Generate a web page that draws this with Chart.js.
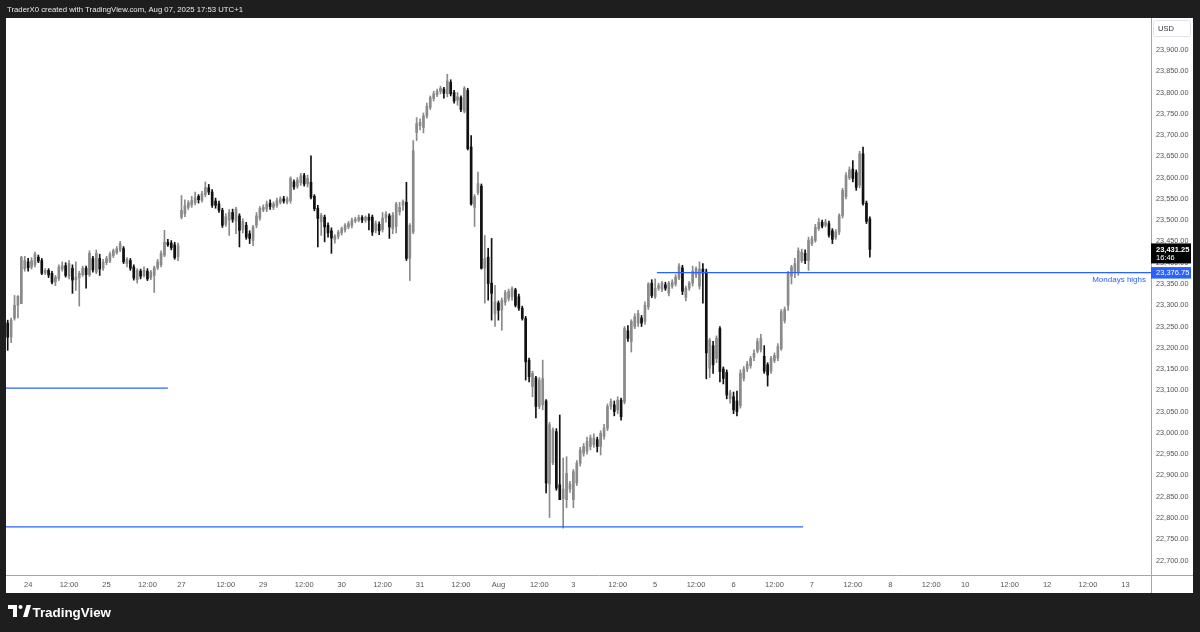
<!DOCTYPE html>
<html><head><meta charset="utf-8">
<script src="https://cdn.jsdelivr.net/npm/chart.js@4/dist/chart.umd.min.js"></script>
<style>html,body{margin:0;padding:0;background:#1e1e1e;overflow:hidden}canvas{display:block}</style>
</head><body>
<canvas id="c" width="1200" height="632"></canvas>
<script>
// ---- hourly candles, NQ futures, Jul 23 17:00 .. Aug 7 17:00 (UTC+1) ----
const opens = [
 23258,23225,23270,23300,23304,23386,23402,23390,23395,23413,23405,23376,23382,23375,23355,23363,23385,23393,23368,23387,
 23360,23365,23372,23387,23372,23410,23378,23410,23387,23400,23404,23417,23424,23430,23433,23398,23405,23390,23360,23380,
 23370,23380,23365,23370,23388,23395,23418,23448,23446,23442,23414,
 23507,23515,23530,23536,23541,23556,23547,23560,23576,23566,23545,23538,23523,23490,23500,23518,23498,23510,23478,
 23488,23468,23452,23488,23505,23524,23526,23540,23530,23535,23542,23550,23543,23546,23590,23580,23588,23605,23585,23589,
 23556,23528,23496,23507,23488,23475,23455,23462,23470,23478,23484,23488,23498,23500,23506,23500,23507,23507,23476,23490,
 23478,23505,23510,23480,23485,23520,23535,23542,23410,23472,
 23706,23722,23718,23745,23765,23786,23795,23803,23808,23797,23824,23800,23782,23788,23756,23805,23672,23530,23565,23580,23387,23413,23352,
 23280,23305,23289,23307,23316,23320,23336,23320,23293,23269,23171,23109,23129,23062,23066,23075,22880,22930,23003,22878,22845,22843,22868,
 22843,22882,22929,22952,22957,22968,22972,22984,22968,22992,23011,23062,23066,23054,23077,23073,23240,23215,23250,23258,23270,23262,23296,
 23352,23320,23340,23338,23348,23328,23345,23350,23364,23388,23318,23340,23352,23372,23345,23385,23378,23152,23205,23175,23245,23150,23142,
 23080,23085,23075,23064,23128,23150,23158,23178,23192,23196,23180,23160,23145,23170,23176,23198,23264,23300,23368,23378,23378,23405,23422,
 23405,23445,23452,23480,23495,23488,23492,23475,23460,23472,23511,23555,23600,23620,23612,23582,23656,23540,23503
];
const highs = [
 23265,23270,23323,23323,23415,23415,23410,23412,23425,23418,23410,23386,23386,23380,23370,23395,23402,23400,23405,23395,
 23402,23380,23392,23392,23428,23415,23430,23420,23408,23415,23425,23432,23438,23450,23438,23412,23410,23395,23386,23385,
 23390,23386,23382,23392,23408,23428,23476,23455,23452,23448,23446,
 23558,23548,23546,23556,23566,23560,23568,23590,23584,23572,23552,23545,23528,23515,23525,23526,23530,23515,23503,
 23495,23475,23488,23518,23532,23536,23545,23548,23543,23552,23555,23556,23555,23602,23595,23600,23610,23610,23606,23651,
 23560,23535,23516,23512,23494,23482,23466,23476,23484,23492,23497,23505,23507,23512,23511,23510,23515,23512,23498,23496,
 23518,23520,23515,23518,23542,23542,23548,23589,23492,23687,
 23741,23738,23752,23775,23792,23803,23808,23815,23812,23843,23830,23805,23800,23792,23814,23810,23699,23560,23613,23585,23464,23434,23457,
 23347,23310,23317,23335,23338,23343,23340,23326,23298,23274,23176,23145,23133,23130,23171,23078,23025,23012,23010,23042,22941,22944,22886,
 22914,22935,22966,22975,22990,22995,22998,22990,23005,23020,23068,23080,23075,23085,23082,23250,23252,23266,23280,23288,23276,23308,23353,
 23360,23362,23352,23356,23354,23356,23360,23372,23398,23394,23345,23356,23392,23390,23402,23398,23385,23222,23215,23228,23250,23155,23148,
 23100,23096,23098,23148,23156,23168,23180,23195,23222,23232,23205,23165,23180,23188,23210,23290,23296,23380,23394,23410,23435,23432,23430,
 23460,23462,23490,23504,23500,23502,23498,23480,23478,23515,23575,23612,23625,23640,23618,23662,23672,23545,23508
];
const lows = [
 23194,23212,23265,23270,23304,23380,23380,23385,23390,23400,23372,23372,23365,23350,23346,23358,23380,23366,23362,23328,
 23335,23298,23368,23340,23368,23378,23374,23370,23382,23395,23400,23412,23420,23426,23398,23390,23382,23359,23352,23362,
 23366,23358,23360,23330,23384,23390,23414,23438,23430,23408,23405,
 23503,23508,23525,23530,23536,23540,23542,23555,23560,23530,23528,23518,23483,23485,23464,23495,23468,23437,23470,
 23455,23445,23440,23482,23500,23520,23520,23525,23525,23530,23538,23540,23538,23540,23572,23575,23582,23580,23578,23550,
 23522,23437,23464,23449,23460,23422,23446,23456,23465,23472,23480,23482,23494,23496,23494,23495,23477,23464,23470,23466,
 23472,23495,23457,23468,23470,23512,23523,23405,23358,23468,
 23687,23712,23705,23740,23760,23780,23790,23797,23787,23790,23792,23775,23770,23755,23752,23665,23535,23485,23560,23385,23305,23312,23265,
 23250,23265,23241,23300,23310,23312,23296,23288,23265,23124,23120,23085,23035,23057,23054,22859,22801,22925,22865,22843,22776,22824,22860,
 22824,22876,22922,22945,22950,22960,22966,22955,22948,22985,23005,23055,23040,23045,23030,23068,23215,23190,23245,23250,23250,23255,23290,
 23318,23316,23335,23332,23335,23322,23340,23345,23360,23325,23310,23335,23345,23365,23338,23305,23127,23130,23140,23165,23120,23115,23080,
 23070,23045,23040,23058,23122,23144,23152,23170,23188,23190,23140,23110,23140,23165,23170,23194,23258,23288,23350,23365,23370,23400,23398,
 23382,23440,23448,23476,23482,23484,23460,23445,23455,23466,23505,23550,23595,23590,23570,23576,23535,23492,23413
];
const closes = [
 23225,23265,23300,23321,23413,23405,23388,23405,23420,23404,23375,23382,23371,23354,23366,23390,23393,23370,23398,23359,
 23366,23375,23387,23372,23422,23383,23422,23385,23402,23410,23420,23428,23433,23445,23402,23408,23387,23364,23382,23368,
 23382,23362,23378,23388,23402,23422,23448,23442,23435,23412,23440,
 23523,23534,23541,23546,23552,23548,23562,23577,23566,23535,23535,23523,23488,23508,23518,23502,23526,23476,23497,
 23460,23457,23484,23510,23528,23530,23538,23532,23538,23546,23550,23545,23550,23598,23578,23594,23604,23585,23598,23554,
 23527,23504,23511,23484,23470,23458,23462,23472,23480,23488,23492,23500,23502,23506,23500,23507,23500,23472,23492,23475,
 23505,23514,23484,23512,23538,23530,23544,23410,23488,23663,
 23727,23730,23745,23768,23788,23797,23803,23810,23798,23827,23797,23780,23790,23760,23810,23668,23538,23555,23586,23387,23410,23351,23328,
 23308,23288,23312,23330,23332,23339,23300,23293,23269,23167,23132,23140,23062,23124,23128,22882,23019,23007,22870,22843,22868,22905,22880,
 22909,22929,22960,22968,22980,22988,22988,22968,22999,23011,23062,23073,23050,23077,23038,23245,23222,23262,23273,23281,23258,23300,23350,
 23323,23340,23346,23352,23340,23352,23354,23366,23392,23333,23340,23352,23380,23386,23385,23376,23188,23218,23160,23222,23144,23128,23089,
 23094,23054,23050,23140,23150,23162,23175,23187,23215,23222,23145,23136,23175,23182,23203,23285,23290,23375,23390,23398,23428,23425,23405,
 23452,23456,23483,23495,23486,23496,23465,23455,23472,23511,23570,23605,23618,23598,23577,23656,23539,23497,23431.25
];
// time axis: bar-slot index of each label and its text
const timeTickSlots  = [6,18,29,41,51,64,75,87,98,110,121,133,144,156,166,179,190,202,213,225,236,248,259,271,281,294,305,317,328];
const timeTickLabels = ['24','12:00','25','12:00','27','12:00','29','12:00','30','12:00','31','12:00','Aug','12:00','3','12:00','5','12:00','6','12:00','7','12:00','8','12:00','10','12:00','12','12:00','13'];
const totalSlots = 336;
const priceTicks = [22700,22750,22800,22850,22900,22950,23000,23050,23100,23150,23200,23250,23300,23350,23400,23450,23500,23550,23600,23650,23700,23750,23800,23850,23900];
const priceMin = 22665.9, priceMax = 23975.2;
// horizontal levels drawn on the chart
const levelPrices = [23105, 22779, 23376.75];
const levelStart  = [-0.5, -0.5, 190.5];
const levelEnd    = [47, 233.4, 335.5];
const levelNames  = ['', '', 'Mondays highs'];
const countdown = '16:46';
const currency = 'USD';
const headerText = 'TraderX0 created with TradingView.com, Aug 07, 2025 17:53 UTC+1';
const brandText = 'TradingView';

const N = opens.length;
const UP = '#8a8a8a', DOWN = '#111111', BLUE = '#2962ff';
const idx = opens.map((_, i) => i);
const colors = idx.map(i => closes[i] >= opens[i] ? UP : DOWN);
const wickData = idx.map(i => ({x: i, y: [lows[i], highs[i]]}));
const bodyData = idx.map(i => ({x: i, y: [Math.min(opens[i], closes[i]), Math.max(opens[i], closes[i])]}));
const fmt = v => v.toLocaleString('en-US', {minimumFractionDigits: 2, maximumFractionDigits: 2});
const FONT = '"Liberation Sans", Arial, sans-serif';

const levelSets = levelPrices.map((p, j) => ({
  type: 'line', data: [{x: levelStart[j], y: p}, {x: levelEnd[j], y: p}],
  borderColor: BLUE, borderWidth: 1.3, pointRadius: 0, order: 0, tension: 0
}));

const deco = {
  id: 'deco',
  beforeDraw(chart) {
    const c = chart.ctx;
    c.save();
    c.fillStyle = '#1e1e1e'; c.fillRect(0, 0, 1200, 632);
    c.fillStyle = '#ffffff'; c.fillRect(6, 18, 1187, 575);
    c.font = '10px ' + FONT;
    const w = c.measureText(headerText).width;
    c.font = (10 * 236 / w).toFixed(2) + 'px ' + FONT;
    c.fillStyle = '#e8e8e8'; c.textBaseline = 'middle'; c.textAlign = 'left';
    c.fillText(headerText, 7, 10);
    c.restore();
  },
  afterDraw(chart) {
    const c = chart.ctx, ys = chart.scales.y;
    c.save();
    c.strokeStyle = '#a3a6ad'; c.lineWidth = 1;
    c.beginPath(); c.moveTo(1151.5, 18); c.lineTo(1151.5, 593); c.stroke();
    c.beginPath(); c.moveTo(6, 575.5); c.lineTo(1193, 575.5); c.stroke();
    // currency box
    c.strokeStyle = '#e0e3eb'; c.fillStyle = '#ffffff';
    c.beginPath(); c.roundRect(1153.5, 20.5, 37, 16, 2); c.fill(); c.stroke();
    c.fillStyle = '#333'; c.font = '7.5px ' + FONT; c.textBaseline = 'middle'; c.textAlign = 'left';
    c.fillText(currency, 1158, 29);
    // level labels
    levelPrices.forEach((p, j) => {
      if (!levelNames[j]) return;
      const py = ys.getPixelForValue(p);
      c.fillStyle = BLUE; c.fillRect(1151, py - 5.5, 40, 11.5);
      c.fillStyle = '#fff'; c.font = '7.5px ' + FONT; c.textAlign = 'left';
      c.fillText(fmt(p), 1156, py + 0.5);
      c.fillStyle = BLUE; c.font = '8px ' + FONT; c.textAlign = 'right';
      c.fillText(levelNames[j], 1146, py + 7);
    });
    // last price
    const last = closes[N - 1], ly = ys.getPixelForValue(last);
    c.fillStyle = '#000'; c.fillRect(1151, ly - 6, 40, 20);
    c.fillStyle = '#fff'; c.textAlign = 'left'; c.font = 'bold 7.5px ' + FONT;
    c.fillText(fmt(last), 1156, ly + 1);
    c.font = '7.5px ' + FONT;
    c.fillText(countdown, 1156, ly + 9);
    // brand
    c.fillStyle = '#ffffff';
    c.fillRect(8, 605, 9, 4); c.fillRect(13, 605, 4, 12);
    c.beginPath(); c.arc(20.5, 607, 2, 0, Math.PI * 2); c.fill();
    c.beginPath(); c.moveTo(23, 617); c.lineTo(27.5, 617); c.lineTo(31, 605); c.lineTo(26.5, 605); c.closePath(); c.fill();
    c.font = '600 14px ' + FONT;
    const bw = c.measureText(brandText).width;
    c.font = '600 ' + (14 * 78.5 / bw).toFixed(2) + 'px ' + FONT;
    c.textBaseline = 'alphabetic'; c.textAlign = 'left';
    c.fillText(brandText, 32.5, 616.5);
    c.restore();
  }
};

new Chart(document.getElementById('c'), {
  data: {
    datasets: [
      ...levelSets,
      {type: 'bar', data: bodyData, backgroundColor: colors, barThickness: 2, grouped: false, minBarLength: 1, order: 1, borderWidth: 0},
      {type: 'bar', data: wickData, backgroundColor: colors, barThickness: 1, grouped: false, order: 2, borderWidth: 0}
    ]
  },
  options: {
    responsive: false, animation: false, devicePixelRatio: 1,
    layout: {padding: {left: 6, top: 18, right: 7, bottom: 39}},
    plugins: {legend: {display: false}, tooltip: {enabled: false}},
    scales: {
      x: {
        type: 'linear', min: -0.5, max: totalSlots - 0.5, offset: false,
        grid: {display: false, drawTicks: false, offset: false}, border: {display: false},
        afterBuildTicks: s => { s.ticks = timeTickSlots.map(v => ({value: v})); },
        ticks: {autoSkip: false, maxRotation: 0, padding: 5, color: '#555', font: {size: 7.5, family: FONT},
          callback: v => { const j = timeTickSlots.indexOf(v); return j >= 0 ? timeTickLabels[j] : ''; }},
        afterFit: s => { s.height = 18; s.paddingLeft = 0; s.paddingRight = 0; s.paddingTop = 0; s.paddingBottom = 0; }
      },
      y: {
        type: 'linear', position: 'right', min: priceMin, max: priceMax,
        grid: {display: false, drawTicks: false}, border: {display: false},
        afterBuildTicks: s => { s.ticks = priceTicks.map(v => ({value: v})); },
        ticks: {padding: 5, color: '#555', font: {size: 7.3, family: FONT}, callback: v => fmt(v)},
        afterFit: s => { s.width = 42; s.paddingLeft = 0; s.paddingRight = 0; s.paddingTop = 0; s.paddingBottom = 0; }
      }
    }
  },
  plugins: [deco]
});
</script>
</body></html>
